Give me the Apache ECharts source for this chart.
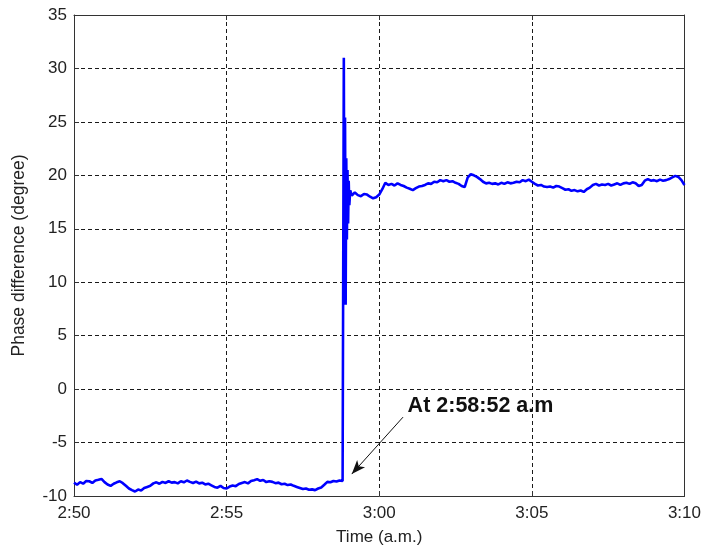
<!DOCTYPE html>
<html>
<head>
<meta charset="utf-8">
<script src="https://cdn.jsdelivr.net/npm/echarts@6/dist/echarts.min.js"></script>
<style>
  html, body { margin: 0; padding: 0; background: #fff; }
  #chart { width: 704px; height: 551px; }
</style>
</head>
<body>
<div id="chart"></div>
<script>
// Minutes after 2:50 a.m.
const minutes = [
  0.0, 0.1, 0.2, 0.3, 0.4, 0.5, 0.6, 0.7, 0.8, 0.9,
  1.0, 1.1, 1.2, 1.3, 1.4, 1.5, 1.6, 1.7, 1.8, 1.9,
  2.0, 2.1, 2.2, 2.3, 2.4, 2.5, 2.6, 2.7, 2.8, 2.9,
  3.0, 3.1, 3.2, 3.3, 3.4, 3.5, 3.6, 3.7, 3.8, 3.9,
  4.0, 4.1, 4.2, 4.3, 4.4, 4.5, 4.6, 4.7, 4.8, 4.9,
  5.0, 5.1, 5.2, 5.3, 5.4, 5.5, 5.6, 5.7, 5.8, 5.9,
  6.0, 6.1, 6.2, 6.3, 6.4, 6.5, 6.6, 6.7, 6.8, 6.9,
  7.0, 7.1, 7.2, 7.3, 7.4, 7.5, 7.6, 7.7, 7.8, 7.9,
  8.0, 8.1, 8.2, 8.3, 8.4, 8.5, 8.6, 8.7, 8.8, 8.83,
  8.84, 8.86, 8.88, 8.90, 8.92, 8.94, 8.96, 8.98, 9.0, 9.02, 9.05, 9.1,
  9.2, 9.3, 9.4, 9.5, 9.6, 9.7, 9.8, 9.9,
  10.0, 10.1, 10.2, 10.3, 10.4, 10.5, 10.6, 10.7, 10.8, 10.9,
  11.0, 11.1, 11.2, 11.3, 11.4, 11.5, 11.6, 11.7, 11.8, 11.9,
  12.0, 12.1, 12.2, 12.3, 12.4, 12.5, 12.6, 12.7, 12.8, 12.9,
  13.0, 13.1, 13.2, 13.3, 13.4, 13.5, 13.6, 13.7, 13.8, 13.9,
  14.0, 14.1, 14.2, 14.3, 14.4, 14.5, 14.6, 14.7, 14.8, 14.9,
  15.0, 15.1, 15.2, 15.3, 15.4, 15.5, 15.6, 15.7, 15.8, 15.9,
  16.0, 16.1, 16.2, 16.3, 16.4, 16.5, 16.6, 16.7, 16.8, 16.9,
  17.0, 17.1, 17.2, 17.3, 17.4, 17.5, 17.6, 17.7, 17.8, 17.9,
  18.0, 18.1, 18.2, 18.3, 18.4, 18.5, 18.6, 18.7, 18.8, 18.9,
  19.0, 19.1, 19.2, 19.3, 19.4, 19.5, 19.6, 19.7, 19.8, 19.9,
  20.0
];

// Phase difference in degrees
const phase = [
  -8.75, -8.95, -8.70, -8.85, -8.60, -8.62, -8.78, -8.55, -8.48, -8.40,
  -8.70, -8.92, -9.05, -8.85, -8.72, -8.62, -8.80, -9.05, -9.30, -9.45,
  -9.58, -9.40, -9.48, -9.25, -9.15, -9.05, -8.82, -8.72, -8.85, -8.68,
  -8.78, -8.62, -8.75, -8.70, -8.82, -8.62, -8.72, -8.55, -8.68, -8.78,
  -8.65, -8.82, -8.75, -8.92, -8.85, -9.00, -9.15, -9.22, -9.05, -9.25,
  -9.30, -9.12, -9.02, -9.08, -8.88, -8.78, -8.70, -8.82, -8.60, -8.52,
  -8.42, -8.58, -8.50, -8.70, -8.62, -8.68, -8.80, -8.75, -8.90, -8.85,
  -8.98, -8.92, -9.05, -9.15, -9.25, -9.35, -9.30, -9.42, -9.38, -9.45,
  -9.30, -9.20, -8.95, -8.68, -8.72, -8.60, -8.65, -8.55, -8.60, -8.50,
  31.0, 8.5, 25.4, 7.9, 21.6, 14.0, 20.5, 15.5, 19.5, 17.2, 18.6, 18.1,
  18.40, 18.15, 18.05, 18.25, 18.20, 18.00, 17.85, 17.95,
  18.20, 18.70, 19.30, 19.10, 19.20, 19.05, 19.25, 19.10, 19.00, 18.85,
  18.75, 18.62, 18.80, 18.95, 19.00, 19.10, 19.25, 19.20, 19.40, 19.35,
  19.55, 19.45, 19.55, 19.40, 19.45, 19.30, 19.20, 19.00, 18.90, 19.80,
  20.10, 20.00, 19.85, 19.65, 19.40, 19.25, 19.30, 19.20, 19.25, 19.15,
  19.30, 19.20, 19.35, 19.25, 19.30, 19.40, 19.35, 19.55, 19.45, 19.60,
  19.40, 19.20, 19.05, 19.10, 18.95, 18.90, 18.95, 18.85, 19.00, 18.95,
  18.80, 18.65, 18.70, 18.55, 18.62, 18.50, 18.58, 18.45, 18.70, 18.85,
  19.10, 19.20, 19.05, 19.15, 19.10, 19.20, 19.05, 19.15, 19.25, 19.10,
  19.25, 19.30, 19.20, 19.35, 19.25, 19.00, 19.10, 19.50, 19.65, 19.50,
  19.55, 19.45, 19.60, 19.50, 19.55, 19.65, 19.80, 19.95, 19.85, 19.55,
  19.10
];

const timeTicks = ['2:50', '2:55', '3:00', '3:05', '3:10'];
const tickStep = 5;

// Annotation: arrow from the label down to the jump point
const noteText = 'At 2:58:52 a.m';
const arrowFrom = [10.78, -2.62];
const arrowTo = [9.1, -7.95];
const noteAnchor = [10.93, -0.6];

const chart = echarts.init(document.getElementById('chart'), null, { renderer: 'canvas' });

const axisFont = { fontFamily: 'Liberation Sans, Arial, sans-serif', fontSize: 17, color: '#222' };
const boxLine = { show: true, onZero: false, lineStyle: { color: '#333', width: 1 } };
const tickIn = { show: true, inside: true, length: 5, lineStyle: { color: '#333' } };
const gridDash = { show: true, lineStyle: { color: '#1a1a1a', width: 1, type: [4, 3] } };

chart.setOption({
  animation: false,
  backgroundColor: '#fff',
  grid: { left: 74, right: 18, top: 15, bottom: 54, containLabel: false },
  xAxis: [
    {
      type: 'value', min: 0, max: 20, interval: tickStep, position: 'bottom',
      name: 'Time (a.m.)', nameLocation: 'middle', nameGap: 33,
      nameTextStyle: axisFont,
      axisLine: boxLine, axisTick: tickIn, splitLine: gridDash,
      axisLabel: Object.assign({ margin: 9, formatter: v => timeTicks[Math.round(v / tickStep)] }, axisFont)
    },
    {
      type: 'value', min: 0, max: 20, interval: tickStep, position: 'top',
      axisLine: boxLine, axisTick: tickIn, splitLine: { show: false }, axisLabel: { show: false }
    }
  ],
  yAxis: [
    {
      type: 'value', min: -10, max: 35, interval: 5, position: 'left',
      name: 'Phase difference (degree)', nameLocation: 'middle', nameGap: 46,
      nameTextStyle: Object.assign({}, axisFont, { fontSize: 17.5 }),
      axisLine: boxLine, axisTick: tickIn, splitLine: gridDash,
      axisLabel: Object.assign({ margin: 7 }, axisFont)
    },
    {
      type: 'value', min: -10, max: 35, interval: 5, position: 'right',
      axisLine: boxLine, axisTick: tickIn, splitLine: { show: false }, axisLabel: { show: false }
    }
  ],
  series: [
    {
      type: 'line',
      data: minutes.map((m, i) => [m, phase[i]]),
      showSymbol: false,
      lineStyle: { color: '#0000ff', width: 2.6 },
      z: 3,
      markLine: {
        silent: true,
        symbol: ['none', 'arrow'],
        symbolSize: [8, 14],
        label: { show: false },
        lineStyle: { color: '#111', width: 1, type: 'solid' },
        data: [[{ coord: arrowFrom }, { coord: arrowTo }]]
      }
    }
  ]
});

const pos = chart.convertToPixel({ xAxisIndex: 0, yAxisIndex: 0 }, noteAnchor);
chart.setOption({
  graphic: [{
    type: 'text',
    x: pos[0], y: pos[1],
    style: {
      text: noteText,
      font: 'bold 21.5px "Liberation Sans", Arial, sans-serif',
      fill: '#111',
      textAlign: 'left',
      textVerticalAlign: 'top'
    },
    z: 10
  }]
});
</script>
</body>
</html>
